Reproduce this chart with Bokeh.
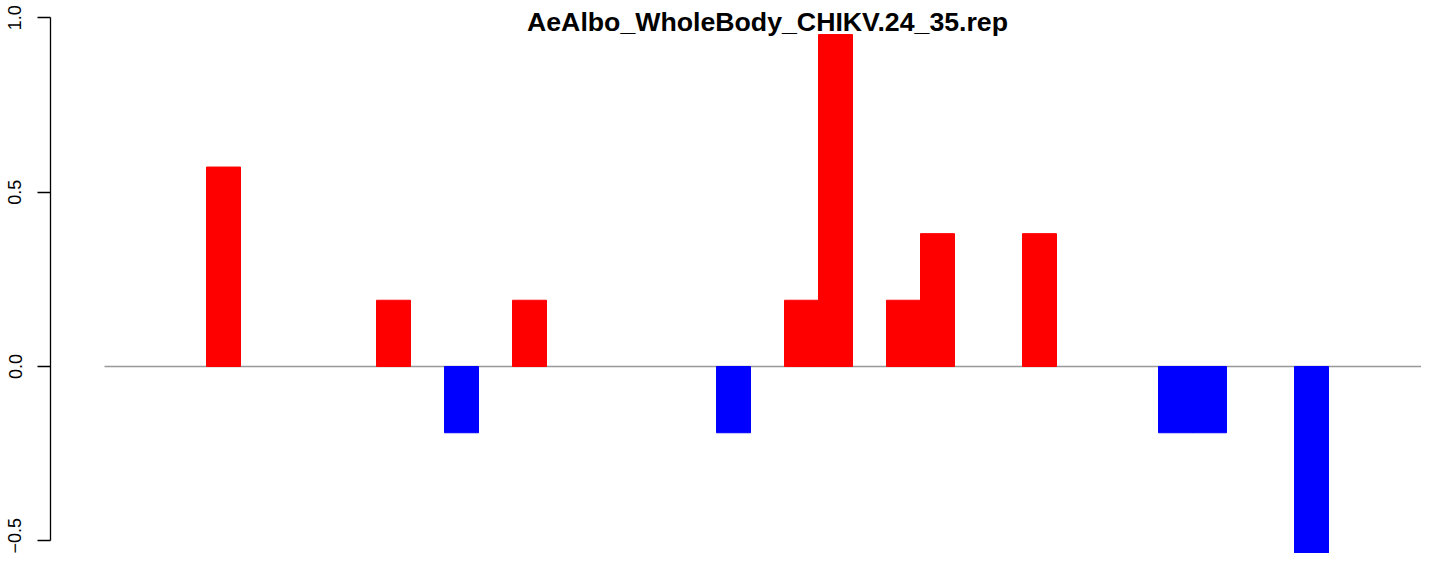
from bokeh.plotting import figure
from bokeh.models import Range1d, FixedTicker, Label, ColumnDataSource
from bokeh.embed import file_html
from bokeh.resources import INLINE

TITLE = "AeAlbo_WholeBody_CHIKV.24_35.rep"

# one value per position (39 positions)
values = [0, 0, 0, 0.572, 0, 0, 0, 0, 0.19, 0, -0.19, 0, 0.19, 0,
          0, 0, 0, 0, -0.19, 0, 0.19, 0.952, 0, 0.19, 0.381, 0, 0,
          0.381, 0, 0, 0, -0.19, -0.19, 0, 0, -0.572, 0, 0, 0]
y_ticks = [-0.5, 0.0, 0.5, 1.0]
y_tick_labels = ["\u22120.5", "0.0", "0.5", "1.0"]

POS_COLOR = "#FF0000"
NEG_COLOR = "#0000FF"

n = len(values)
xs = [i + 0.5 for i in range(n)]
colors = [POS_COLOR if v >= 0 else NEG_COLOR for v in values]
edge_alpha = [1.0 if v != 0 else 0.0 for v in values]
src = ColumnDataSource(dict(x=xs, top=values, color=colors, ea=edge_alpha))

W, H = 1421, 553
px_per_slot = 34.0
px_per_unit = 348.7
zero_px = 366          # canvas y of value 0
frame_left = 50
first_slot_px = 104    # canvas x of position 0

x_start = -(first_slot_px - frame_left) / px_per_slot
x_end = x_start + (W - frame_left) / px_per_slot
y_end = zero_px / px_per_unit
y_start = -(H - zero_px) / px_per_unit

p = figure(width=W, height=H, output_backend="svg", toolbar_location=None,
           x_range=Range1d(x_start, x_end), y_range=Range1d(y_start, y_end),
           x_axis_location=None, y_axis_location="left",
           min_border_left=frame_left, min_border_right=0,
           min_border_top=0, min_border_bottom=0)
p.outline_line_color = None
p.grid.visible = False
p.background_fill_color = "white"
p.border_fill_color = "white"

# baseline
p.line(x=[0, n], y=[0, 0], line_color="#999999", line_width=1.5)

p.vbar(x="x", top="top", bottom=0, width=1.0, source=src,
       fill_color="color", line_color="color", line_alpha="ea",
       line_width=1.0)

ax = p.yaxis[0]
ax.ticker = FixedTicker(ticks=y_ticks)
ax.major_label_overrides = {t: l for t, l in zip(y_ticks, y_tick_labels)}
ax.bounds = (min(y_ticks), max(y_ticks))
ax.minor_tick_line_color = None
ax.major_tick_out = 13
ax.major_tick_in = 0
ax.major_tick_line_color = "black"
ax.major_tick_line_width = 1.3
ax.axis_line_color = "black"
ax.axis_line_width = 1.3
ax.major_label_orientation = "vertical"
ax.major_label_text_font = "Liberation Sans"
ax.major_label_text_font_size = "18px"
ax.major_label_text_color = "black"
ax.major_label_standoff = 16

title = Label(x=n / 2, y=(zero_px - 21) / px_per_unit, text=TITLE,
              text_align="center", text_baseline="alphabetic",
              text_font="Liberation Sans", text_font_style="bold",
              text_font_size="26.7px", text_color="black")
p.add_layout(title)

open("out.html", "w").write(file_html(p, INLINE))
